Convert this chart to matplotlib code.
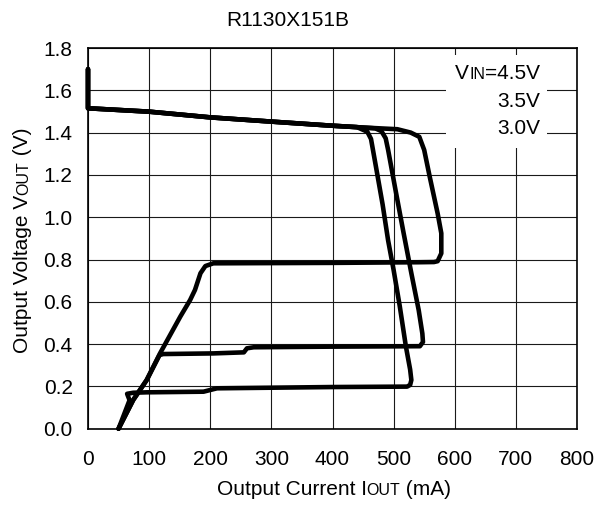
import math
import matplotlib
matplotlib.use("Agg")
import matplotlib.pyplot as plt
from matplotlib.transforms import IdentityTransform
from matplotlib.patches import Rectangle

plt.rcParams['font.family'] = ['Liberation Sans', 'DejaVu Sans']

# ---- data ----
title = "R1130X151B"
x_ticks = [0, 100, 200, 300, 400, 500, 600, 700, 800]
y_ticks = [0.0, 0.2, 0.4, 0.6, 0.8, 1.0, 1.2, 1.4, 1.6, 1.8]

# VIN = 4.5V
i45 = [0, 0, 0, 100, 200, 300, 397, 450, 506, 528, 542, 550, 559, 572, 578, 578,
       572, 566, 540, 400, 205, 192, 184, 175, 167, 151, 118, 96, 74, 50]
v45 = [1.70, 1.52, 1.515, 1.499, 1.472, 1.452, 1.433, 1.424, 1.416, 1.400, 1.380,
       1.318, 1.192, 1.018, 0.924, 0.829, 0.792, 0.788, 0.787, 0.784, 0.782, 0.769,
       0.735, 0.656, 0.608, 0.530, 0.357, 0.230, 0.136, 0.0]

# VIN = 3.5V
i35 = [0, 0, 0, 100, 200, 300, 397, 450, 470, 480, 487, 491, 503, 516, 529, 541,
       547, 548, 543, 400, 271, 260, 255, 205, 123, 117, 96, 74, 50]
v35 = [1.70, 1.52, 1.515, 1.499, 1.472, 1.452, 1.433, 1.424, 1.420, 1.407, 1.373,
       1.318, 1.130, 0.930, 0.735, 0.561, 0.450, 0.410, 0.390, 0.388, 0.385, 0.380,
       0.361, 0.356, 0.353, 0.348, 0.230, 0.136, 0.0]

# VIN = 3.0V
i30 = [0, 0, 0, 100, 200, 300, 397, 440, 457, 463, 471, 482, 491, 500, 510, 520,
       527, 529, 527, 522, 400, 211, 200, 189, 96, 74, 64, 68, 50]
v30 = [1.70, 1.52, 1.515, 1.499, 1.472, 1.452, 1.433, 1.426, 1.404, 1.370, 1.240,
       1.060, 0.890, 0.750, 0.580, 0.390, 0.280, 0.230, 0.207, 0.199, 0.197, 0.191,
       0.183, 0.175, 0.172, 0.170, 0.165, 0.135, 0.0]

legend_vals = ["4.5V", "3.5V", "3.0V"]

W, H = 597, 505
fig = plt.figure(figsize=(W / 100, H / 100), dpi=100)
ax = fig.add_axes([88 / W, 1 - 428.7 / H, (577 - 88) / W, (428.7 - 48) / H])

for xs, ys in [(i45, v45), (i35, v35), (i30, v30)]:
    ax.plot(xs, ys, color='black', lw=3.3, solid_joinstyle='round',
            solid_capstyle='round', zorder=4, clip_on=False)

ax.set_xlim(0, 800)
ax.set_ylim(0, 1.8)
ax.set_xticks(x_ticks)
ax.set_yticks(y_ticks)
ax.set_xticklabels([str(v) for v in x_ticks])
ax.set_yticklabels([f"{v:.1f}" for v in y_ticks])
ax.tick_params(axis='both', length=0, labelsize=15, colors='black')
ax.tick_params(axis='x', pad=15)
ax.tick_params(axis='y', pad=11)
ax.grid(True, color='#1a1a1a', lw=0.8, zorder=1)
ax.set_axisbelow(True)
for sp in ax.spines.values():
    sp.set_linewidth(1.2)
    sp.set_color('black')
    sp.set_zorder(5)

# white box behind legend text
ax.add_patch(Rectangle((585, 1.327), 751 - 585, 1.767 - 1.327, facecolor='white',
                       edgecolor='none', zorder=2))

fig.canvas.draw()
renderer = fig.canvas.get_renderer()


def rich(x, y, parts, rotation=0, ha='center'):
    """x, y: image pixel coords (y from top) of the baseline anchor."""
    yd = H - y
    texts, widths = [], []
    for s, size in parts:
        t = fig.text(0, 0, s, fontsize=size, transform=IdentityTransform(),
                     ha='left', va='baseline', rotation_mode='anchor')
        w = t.get_window_extent(renderer).width
        texts.append(t)
        widths.append(w)
    total = sum(widths)
    pos = {'center': -total / 2, 'left': 0, 'right': -total}[ha]
    c, s_ = math.cos(math.radians(rotation)), math.sin(math.radians(rotation))
    for t, w in zip(texts, widths):
        t.set_position((x + pos * c, yd + pos * s_))
        t.set_rotation(rotation)
        pos += w


fs = 15
sm = 11.5
rich(288, 26, [(title, fs)])
rich(334, 495, [("Output Current I", fs), ("OUT", sm), (" (mA)", fs)])
rich(28, 240, [("Output Voltage V", fs), ("OUT", sm), (" (V)", fs)], rotation=90)
rich(540, 79, [("V", fs), ("IN", sm), ("=" + legend_vals[0], fs)], ha='right')
rich(540, 107, [(legend_vals[1], fs)], ha='right')
rich(540, 134, [(legend_vals[2], fs)], ha='right')

fig.savefig("out.png", dpi=100)
